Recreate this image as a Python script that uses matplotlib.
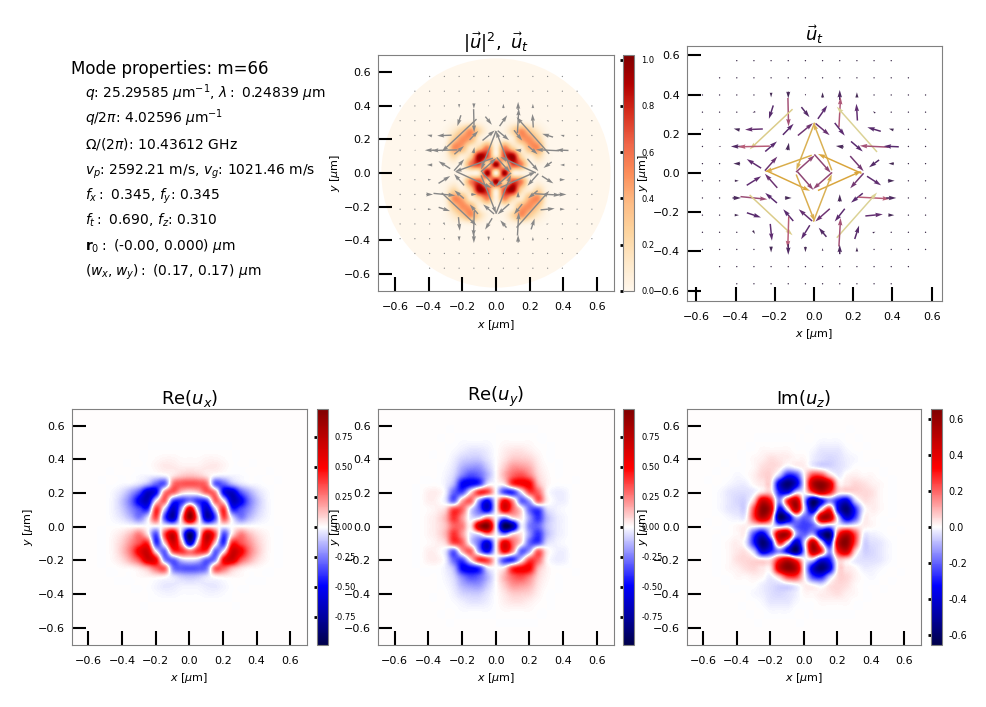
import numpy as np
import matplotlib
matplotlib.use('Agg')
import matplotlib.pyplot as plt
from matplotlib.colors import LinearSegmentedColormap
from matplotlib.patches import Circle

W, H = 986, 707

# Rows y = 0, 0.05, ... 0.5 and columns x = 0, 0.05, ... 0.5 (um)
grid_step = 0.05

power_q = [
    [5, 95, 12, 4, 3, 2, 0, 0, 0, 0, 0],
    [95, 25, 70, 55, 6, 4, 1, 0, 0, 0, 0],
    [12, 70, 95, 25, 8, 22, 4, 0, 0, 0, 0],
    [4, 55, 25, 10, 42, 50, 6, 0, 0, 0, 0],
    [3, 6, 8, 42, 50, 30, 3, 0, 0, 0, 0],
    [2, 4, 22, 50, 30, 12, 2, 0, 0, 0, 0],
    [0, 1, 4, 6, 3, 2, 0, 0, 0, 0, 0],
    [0, 0, 0, 0, 0, 0, 0, 0, 0, 0, 0],
    [0, 0, 0, 0, 0, 0, 0, 0, 0, 0, 0],
    [0, 0, 0, 0, 0, 0, 0, 0, 0, 0, 0],
    [0, 0, 0, 0, 0, 0, 0, 0, 0, 0, 0],
]
ux_q = [
    [0, 0, 0, 0, 0, 0, 0, 0, 0, 0, 0],
    [90, 10, -70, -35, 35, -5, -25, -14, -6, -2, 0],
    [65, -15, -65, -10, 40, -40, -35, -22, -10, -3, 0],
    [-25, -40, -35, 30, 0, -65, -55, -28, -12, -3, 0],
    [5, 10, 30, 22, -50, -65, -35, -18, -7, -2, 0],
    [33, 32, 25, -30, -30, -15, -6, -2, -1, 0, 0],
    [12, 10, 5, -2, -3, -2, -1, 0, 0, 0, 0],
    [3, 3, 4, 4, 2, 0, 0, 0, 0, 0, 0],
    [1, 1, 2, 2, 1, 0, 0, 0, 0, 0, 0],
    [0, 0, 0, 0, 0, 0, 0, 0, 0, 0, 0],
    [0, 0, 0, 0, 0, 0, 0, 0, 0, 0, 0],
]
uy_q = [
    [0, -95, -75, -5, -25, -30, -12, -5, -2, 0, 0],
    [0, -20, 5, 5, -20, -40, -15, -5, -2, 0, 0],
    [0, 60, 30, 5, -30, -35, -8, -3, -1, 0, 0],
    [0, 50, 20, -30, -15, 30, 5, -2, -3, 0, 0],
    [0, -35, -40, -5, 35, 30, 3, -3, -3, 0, 0],
    [0, 5, 40, 50, 50, 15, 3, 0, 0, 0, 0],
    [0, 15, 30, 35, 25, 8, 2, 0, 0, 0, 0],
    [0, 10, 20, 20, 15, 5, 1, 0, 0, 0, 0],
    [0, 5, 10, 10, 8, 3, 0, 0, 0, 0, 0],
    [0, 3, 5, 5, 3, 1, 0, 0, 0, 0, 0],
    [0, 1, 1, 1, 1, 0, 0, 0, 0, 0, 0],
]
uz_q = [
    [-25, -20, -5, -10, 0, 0, 1, 2, 1, 0, 0],
    [-15, -10, 50, 50, -5, -40, -25, 0, 1, 0, 0],
    [-10, -45, 0, 28, -35, -58, -30, -3, 2, 1, 0],
    [-30, -58, -35, -15, -30, -40, -8, 3, 3, 1, 0],
    [-5, 25, 45, 30, 5, 3, 5, 5, 4, 1, 0],
    [5, 50, 62, 45, 5, 3, 5, 4, 2, 1, 0],
    [2, 25, 25, 8, -2, 1, 2, 1, 1, 0, 0],
    [1, -1, -4, -5, -4, -2, 0, 0, 0, 0, 0],
    [0, -2, -4, -5, -4, -2, -1, 0, 0, 0, 0],
    [0, -1, -3, -3, -3, -1, 0, 0, 0, 0, 0],
    [0, 0, -1, -1, -1, 0, 0, 0, 0, 0, 0],
]

# transverse vectors, 14 columns x 14 rows from the top row down
arrow_x = (np.arange(14) - 6.5) * 0.0875
arrow_y = (6.5 - np.arange(14)) * 0.0875 + 0.004
arrow_u = [
    [0, 0, 0, 0, 0, 0, 0, 0, 0, 0, 0, 0, 0, 0],
    [0, 0, 0, 0, 0, 0, 0, 0, 0, 0, 0, 0, 0, 0],
    [0, 0, 0, 0, 0, 0, 0, 0, 0, 0, 0, 0, 0, 0],
    [0, 0, 0, -8, -13, 2, 24, 28, 5, -3, -7, 0, 0, 0],
    [0, 0, -18, -53, -128, 32, 45, 42, 30, -120, -40, -14, 0, 0],
    [0, -6, -35, -95, 35, 4, -55, -55, -23, 35, -85, -45, 0, 0],
    [0, 0, -20, -43, 37, -140, 56, 49, -130, 40, -30, -16, 0, 0],
    [0, 0, 12, 43, -37, 130, 48, -57, 130, -40, 42, 20, 0, 0],
    [0, 0, 25, 80, -35, 20, 55, 55, 0, -35, 95, 30, 0, 0],
    [0, 0, 13, 42, 128, -30, -40, -43, -30, 120, 52, 18, 0, 0],
    [0, 0, 0, 6, 5, -3, -26, -23, 5, 13, 8, 0, 0, 0],
    [0, 0, 0, 0, 0, 0, 0, 0, 0, 0, 0, 0, 0, 0],
    [0, 0, 0, 0, 0, 0, 0, 0, 0, 0, 0, 0, 0, 0],
    [0, 0, 0, 0, 0, 0, 0, 0, 0, 0, 0, 0, 0, 0],
]
arrow_v = [
    [0, 0, 0, 0, 0, 0, 0, 0, 0, 0, 0, 0, 0, 0],
    [0, 0, 0, 0, 0, 0, 0, 0, 0, 0, 0, 0, 0, 0],
    [0, 0, 0, 0, -14, -20, -6, 16, 30, 16, 0, 0, 0, 0],
    [0, 0, 0, -3, -40, -85, -30, 40, 90, 50, 5, 0, 0, 0],
    [0, 0, 4, -2, -120, 33, 37, -35, -38, 135, 12, 4, 0, 0],
    [0, 0, 0, -2, 30, 22, -142, 142, 3, -30, 4, 2, 0, 0],
    [0, 0, 0, 27, 42, -50, 50, -55, 58, -45, -22, 0, 0, 0],
    [0, 0, 0, 27, 42, -60, -55, -50, 58, -45, -27, 0, 0, 0],
    [0, 0, 0, -8, 30, 0, -140, 142, 22, -28, -5, 0, 0, 0],
    [0, 0, 0, -14, -120, 35, 35, -38, -38, 135, 5, 0, 0, 0],
    [0, 0, 0, -10, -50, -95, -42, 27, 85, 40, 3, 0, 0, 0],
    [0, 0, 0, 0, -18, -32, -16, 8, 28, 13, 0, 0, 0, 0],
    [0, 0, 0, 0, 0, 0, 0, 0, 0, 0, 0, 0, 0, 0],
    [0, 0, 0, 0, 0, 0, 0, 0, 0, 0, 0, 0, 0, 0],
]
arrow_colors = ['#3a2a48', '#5a2a70', '#b85c78', '#d9a53c', '#dcdcaa']

ticks = [-0.6, -0.4, -0.2, 0.0, 0.2, 0.4, 0.6]
info_title = 'Mode properties: m=66'
info_lines = [
    r'$q$: 25.29585 $\mu$m$^{-1}$, $\lambda:$ 0.24839 $\mu$m',
    r'$q/2\pi$: 4.02596 $\mu$m$^{-1}$',
    r'$\Omega/(2\pi)$: 10.43612 GHz',
    r'$v_p$: 2592.21 m/s, $v_g$: 1021.46 m/s',
    r'$f_x:$ 0.345, $f_y$: 0.345',
    r'$f_t:$ 0.690, $f_z$: 0.310',
    r'$\mathbf{r}_0:$ (-0.00, 0.000) $\mu$m',
    r'$(w_x, w_y):$ (0.17, 0.17) $\mu$m',
]


def unfold(q, sx, sy):
    # the mode is mirror symmetric, sx and sy are the signs of the mirror images
    q = np.array(q) / 100
    top = np.hstack([sx * q[:, :0:-1], q])
    return np.vstack([sy * top[:0:-1], top])


def unfold_c4(q):
    # Im(u_z) repeats under quarter turns
    q = np.array(q) / 100
    n = q.shape[0]
    one = np.zeros((2 * n - 1, 2 * n - 1))
    one[n - 1:, n:] = q[:, 1:]
    full = sum(np.rot90(one, k) for k in range(4))
    full[n - 1, n - 1] = q[0, 0]
    return full


def new_axes(x0, y0, x1, y1):
    return fig.add_axes([x0 / W, 1 - y1 / H, (x1 - x0) / W, (y1 - y0) / H])


def style(ax, lim):
    ax.set_xlim(-lim, lim)
    ax.set_ylim(-lim, lim)
    ax.set_xticks(ticks)
    ax.set_yticks(ticks)
    ax.tick_params(direction='in', length=10, width=1.5, labelsize=8, color='black')
    ax.tick_params(axis='x', pad=8)
    ax.tick_params(axis='y', pad=5)
    ax.set_xlabel(r'$x$ [$\mu$m]', fontsize=8)
    ax.set_ylabel(r'$y$ [$\mu$m]', fontsize=8, labelpad=1.5)
    for s in ax.spines.values():
        s.set_color('gray')


def field(box, cbox, data, cmap, vmin, vmax, cticks, title, fmt, cfont, clip=False):
    ax = new_axes(*box)
    full = np.pad(data, 4)
    edge = (full.shape[0] - 1) / 2 * grid_step + grid_step / 2
    im = ax.imshow(full, origin='lower', extent=[-edge, edge, -edge, edge], cmap=cmap,
                   vmin=vmin, vmax=vmax, interpolation='catrom', aspect='auto')
    if clip:
        im.set_clip_path(Circle((0, 0), 0.68, transform=ax.transData))
    style(ax, 0.7)
    ax.set_title(title, fontsize=13, pad=3.5)
    cax = new_axes(*cbox)
    cb = fig.colorbar(im, cax=cax, ticks=cticks, format=fmt)
    cb.outline.set_edgecolor('gray')
    cax.tick_params(which='both', left=True, right=False, labelright=True, labelleft=False,
                    direction='out', length=2, width=2, labelsize=cfont, pad=3)
    return ax


fig = plt.figure(figsize=(W / 100, H / 100), dpi=100)

# info block
fig.text(71 / W, 1 - 74 / H, info_title, fontsize=12, va='baseline')
for i, line in enumerate(info_lines):
    fig.text(85 / W, 1 - (98 + i * 25.4) / H, line, fontsize=10, va='baseline')

ticks_c = [-0.75, -0.5, -0.25, 0, 0.25, 0.5, 0.75]
ticks_z = [-0.6, -0.4, -0.2, 0, 0.2, 0.4, 0.6]
ticks_p = [0, 0.2, 0.4, 0.6, 0.8, 1.0]

ax_p = field((378, 55, 614, 291), (623, 55, 634.5, 291), unfold(power_q, 1, 1), 'OrRd', 0, 1.02,
             ticks_p, r'$|\vec{u}|^2,\ \vec{u}_t$', '%.1f', 6, clip=True)
field((71.5, 409, 307, 644.5), (316.5, 409, 327.5, 644.5), unfold(ux_q, 1, -1), 'seismic', -0.98, 0.98,
      ticks_c, r'Re$(u_x)$', '%.2f', 6)
field((378, 409, 613.5, 644.5), (623, 409, 634.5, 644.5), unfold(uy_q, -1, 1), 'seismic', -0.98, 0.98,
      ticks_c, r'Re$(u_y)$', '%.2f', 6)
field((686.5, 409, 921, 644.5), (930.5, 409, 941.5, 644.5), unfold_c4(uz_q), 'seismic', -0.653, 0.653,
      ticks_z, r'Im$(u_z)$', '%.1f', 7)

# arrows
X, Y = np.meshgrid(arrow_x, arrow_y)
U = np.array(arrow_u, dtype=float)
V = np.array(arrow_v, dtype=float)
keep = np.hypot(X, Y) < 0.7

ax_p.quiver(X[keep], Y[keep], U[keep], V[keep], color='#888888', angles='xy', scale_units='xy', scale=620,
            pivot='mid', units='dots', width=1.4, zorder=3)

arrow_cmap = LinearSegmentedColormap.from_list('arrows', arrow_colors)
ax_t = new_axes(686.5, 45.5, 941.5, 300.5)
ax_t.quiver(X[keep], Y[keep], U[keep], V[keep], np.hypot(U, V)[keep], cmap=arrow_cmap,
            angles='xy', scale_units='xy', scale=585, pivot='mid', units='dots', width=1.5, clim=(0, 190))
style(ax_t, 0.65)
ax_t.set_title(r'$\vec{u}_t$', fontsize=13, pad=3.5)

fig.savefig('out.png', dpi=100)
